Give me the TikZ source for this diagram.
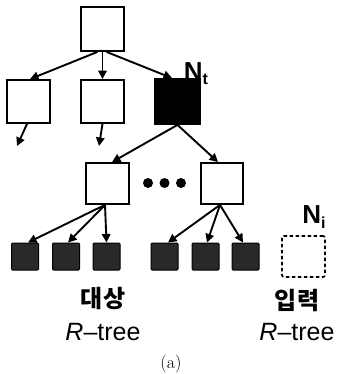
\documentclass[tikz,border=0pt]{standalone}
\usepackage{fontspec}
\newfontfamily\arial{Liberation Sans}
\newfontfamily\kr{Noto Sans CJK KR}
\usetikzlibrary{arrows.meta}
\tikzset{
  box/.style={draw, line width=1.8pt, fill=white, inner sep=0pt,
              minimum width=43pt, minimum height=43pt},
  hot/.style={box, fill=black, minimum width=45pt, minimum height=45pt},
  leaf/.style={draw=black, line width=1pt, fill=black!84, inner sep=0pt,
               minimum width=27pt, minimum height=27pt, rounded corners=1pt},
  ghost/.style={draw, dashed, dash pattern=on 3.5pt off 2.5pt, line width=1.7pt,
                inner sep=0pt, minimum width=43pt, minimum height=41pt, rounded corners=2pt},
  link/.style={line width=1.9pt, -{Triangle[length=8.5pt,width=8.5pt]}},
  lbl/.style={inner sep=0pt, anchor=center},
}
\begin{document}
\begin{tikzpicture}[x=1pt,y=-1pt]
  \useasboundingbox (0,0) rectangle (337,374);

  % upper levels
  \node[box, minimum height=44pt] (root) at (102.5,29) {};
  \node[box] (a) at (28.5,101.5) {};
  \node[box] (b) at (102.5,101.5) {};
  \node[hot] (nt) at (177.5,101.5) {};

  % children of N_t
  \node[box, minimum height=41pt] (c) at (107.5,183.5) {};
  \node[box, minimum width=42pt, minimum height=41pt] (d) at (222,183.5) {};

  % leaves
  \foreach \n/\x in {l1/25, l2/66, l3/106.5, l4/164.5, l5/205.5, l6/245.5}
    \node[leaf] (\n) at (\x,256.5) {};

  % the input node
  \node[ghost] (ni) at (303.5,256.5) {};

  % ellipsis between the children
  \foreach \x/\nm in {148/e1, 164.5/e2, 181/e3}
    \fill (\x,183) circle (5pt) coordinate (\nm);

  % free ends below the other subtrees
  \coordinate (fa) at (17,146);
  \coordinate (fb) at (99,146);

  % edges
  \draw[link] ([xshift=-5pt]root.south) -- ([xshift=1.5pt]a.north);
  \draw[link] (root.south) -- (b.north);
  \draw[link] ([xshift=4pt]root.south) -- ([xshift=-5.5pt]nt.north);
  \draw[link] ([xshift=-1.5pt]a.south) -- (fa);
  \draw[link] (b.south) -- (fb);
  \draw[link] (nt.south) -- ([xshift=4.5pt]c.north);
  \draw[link] (nt.south) -- ([xshift=-4pt]d.north);
  \draw[link] ([xshift=-2.5pt]c.south) -- ([xshift=3pt]l1.north);
  \draw[link] ([xshift=-2.5pt]c.south) -- ([xshift=2pt]l2.north);
  \draw[link] ([xshift=-2.5pt]c.south) -- (l3.north);
  \draw[link] ([xshift=-2pt]d.south) -- ([xshift=3.5pt]l4.north);
  \draw[link] ([xshift=-2pt]d.south) -- ([xshift=1.5pt]l5.north);
  \draw[link] ([xshift=-2pt]d.south) -- ([xshift=-2.5pt]l6.north);

  % labels
  \node[lbl] (tnt) at (196,74) {\arial\bfseries\fontsize{26}{28}\selectfont N\raisebox{-0.3ex}{\fontsize{16}{17}\selectfont t}};
  \node[lbl] (tni) at (314,217) {\arial\bfseries\fontsize{26}{28}\selectfont N\raisebox{-0.3ex}{\fontsize{16}{17}\selectfont i}};
  \node[lbl] (k1) at (103,299) {\kr\bfseries\fontsize{24}{28}\selectfont 대상};
  \node[lbl] (r1) at (103,332) {\arial\fontsize{25}{28}\selectfont\itshape R\upshape –tree};
  \node[lbl] (k2) at (297,301) {\kr\bfseries\fontsize{24}{28}\selectfont 입력};
  \node[lbl] (r2) at (297,332) {\arial\fontsize{25}{28}\selectfont\itshape R\upshape –tree};
  \node[lbl] (cap) at (171,364) {\fontsize{18}{20}\selectfont (a)};
\end{tikzpicture}
\end{document}
